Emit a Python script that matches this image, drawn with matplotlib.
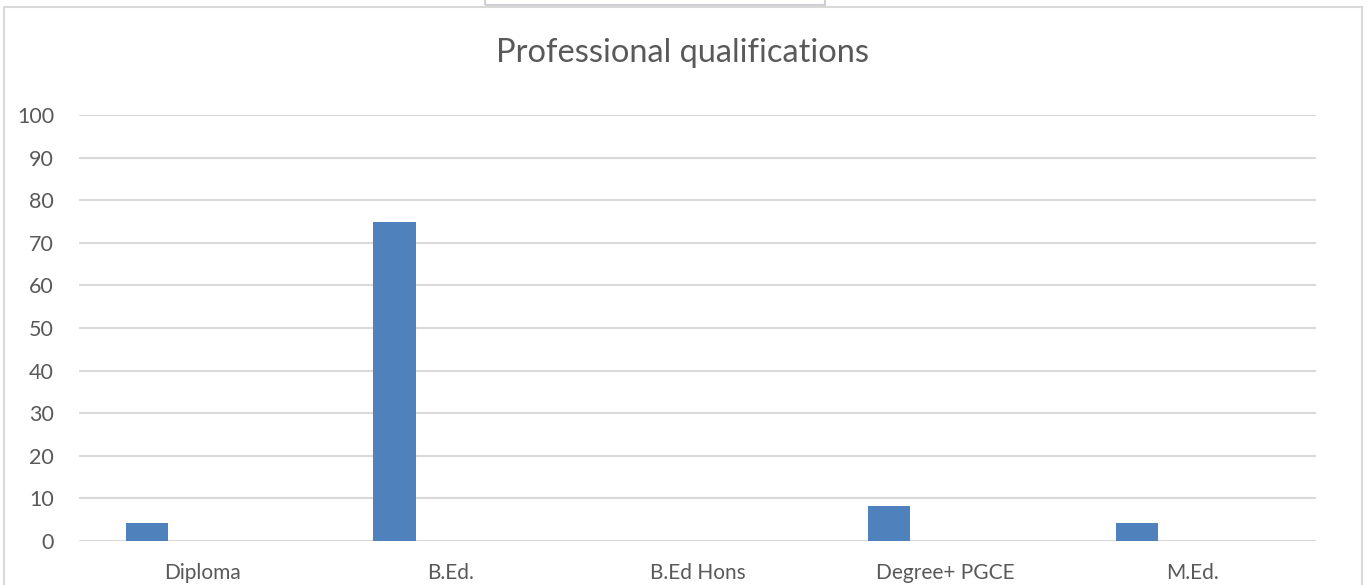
import matplotlib
matplotlib.use("Agg")
import matplotlib.pyplot as plt
from matplotlib.patches import Rectangle
import numpy as np

plt.rcParams['font.family'] = ['Lato', 'DejaVu Sans']

# share of respondents (%) per qualification
categories = ["Diploma", "B.Ed.", "B.Ed Hons", "Degree+ PGCE", "M.Ed."]
percent = [4.17, 75.0, 0.0, 8.33, 4.17]
yticks = [0, 10, 20, 30, 40, 50, 60, 70, 80, 90, 100]

BAR = "#4f81bd"
GRID = "#d9d9d9"
TXT = "#595959"

fig = plt.figure(figsize=(13.7, 5.85), dpi=100)
ax = fig.add_axes([0.0577, 0.0752, 0.9029, 0.7282])

x = np.arange(len(categories))
# first series of a clustered layout, so bars sit left of the category centre
ax.bar(x - 0.225, percent, width=0.17, color=BAR, zorder=3)

ax.set_xlim(-0.5, len(categories) - 0.5)
ax.set_ylim(0, 100)
ax.set_yticks(yticks)
ax.set_yticklabels([str(v) for v in yticks], fontsize=15.5, color=TXT)
ax.set_xticks(x)
ax.set_xticklabels(categories, fontsize=15, color=TXT)
ax.tick_params(axis="y", length=0, pad=18)
ax.tick_params(axis="x", length=0, pad=16)
ax.yaxis.grid(True, color=GRID, linewidth=1.5, zorder=0)
for s in ax.spines.values():
    s.set_visible(False)

fig.text(0.4985, 0.909, "Professional qualifications", ha="center", va="center",
         fontsize=23.5, color=TXT)

# chart frame and the tab peeking above it
W, H = 1370, 585
fig.patches.append(Rectangle((4 / W, -0.01), (1362 - 4) / W, 1.01 - 6.5 / H,
                             transform=fig.transFigure, fill=False,
                             edgecolor=GRID, linewidth=1.5))
fig.patches.append(Rectangle((485 / W, 1 - 4.5 / H), (825 - 485) / W, 0.05,
                             transform=fig.transFigure, fill=False,
                             edgecolor="#cfcfd8", linewidth=1.5))

fig.savefig("out.png", dpi=100)
